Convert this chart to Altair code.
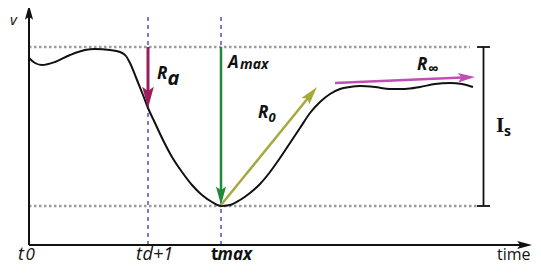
import math
import altair as alt
import pandas as pd

# ---------------- data (time units t, value units v) ----------------
curve_t = [0, 1.2, 2.6, 5.2, 8.2, 11.2, 13.2, 16.2, 18.2, 19.4, 20.2, 21.6, 22.8,
           23.8, 25.2, 26.8, 28.6, 30.6, 32.6, 34.6, 36.6, 38.4, 40.2, 42.2, 44.2,
           46.2, 48.2, 50.2, 52.2, 54.2, 56.2, 58.2, 60.2, 62.2, 64.2, 66.2, 69.2,
           72.2, 75.2, 78.2, 81.2, 84.2, 86.6, 88.8]
curve_v = [93.5, 91, 90, 91.5, 95, 97.5, 98, 97.5, 96.5, 94.5, 91, 82.5, 75,
           68.5, 61, 52.5, 44, 36.5, 30, 25, 21.5, 19.5, 20, 22.5, 26,
           30.5, 36.5, 43.5, 51, 58.5, 66, 71.5, 75.5, 78, 79, 79.5, 79,
           78, 78, 79, 80.5, 81, 80.5, 79]

T_D1 = 23.8          # t_{d+1}
T_MAX = 38.4         # t_max
V_TOP = 99.0         # upper reference level
V_BOT = 19.5         # lower reference level
T_AXIS_END = 100.6
V_AXIS_END = 120.0
T_GUIDE_TOP = 114.0

# arrows: start t, start v, end t, end v
arrow_names = ["Ra", "Amax", "R0", "Rinf"]
arrow_t1 = [23.8, 38.4, 38.4, 61.2]
arrow_v1 = [99.0, 99.0, 20.0, 81.0]
arrow_t2 = [23.8, 38.4, 57.6, 89.2]
arrow_v2 = [68.5, 20.0, 79.0, 84.0]

# I_s bracket
IS_T = 90.9
IS_CAP = [89.6, 92.2]

# labels
label_text = ["v", "R", "a", "A", "max", "R", "0", "R", "\u221e", "I", "s",
              "t", "0", "t", "d+1", "t", "max", "time"]
label_t = [-3.8, 25.6, 27.7, 39.8, 42.2, 45.8, 47.9, 77.6, 79.8, 93.4, 95.0,
           -2.2, -0.7, 21.4, 22.7, 36.4, 37.7, 93.6]
label_v = [110.25, 83.0, 80.0, 88.5, 88.0, 63.5, 61.5, 87.5, 85.5, 56.5, 54.5,
           -7.25, -7.5, -7.25, -7.25, -7.25, -7.5, -7.5]

# ---------------- scales ----------------
W, H = 525, 257
X_DOMAIN = [-4.2, 100.8]
Y_DOMAIN = [-10.0, 118.5]
KX = W / (X_DOMAIN[1] - X_DOMAIN[0])
KY = H / (Y_DOMAIN[1] - Y_DOMAIN[0])

xs = alt.Scale(domain=X_DOMAIN, nice=False, zero=False)
ys = alt.Scale(domain=Y_DOMAIN, nice=False, zero=False)
FONT = "Open Sans"


def X(f="t"):
    return alt.X(f"{f}:Q", scale=xs, axis=None)


def Y(f="v"):
    return alt.Y(f"{f}:Q", scale=ys, axis=None)


def rules(t1, v1, t2, v2, color, width, dash=None):
    df = pd.DataFrame({"t": t1, "v": v1, "t2": t2, "v2": v2})
    kw = dict(color=color, strokeWidth=width)
    if dash:
        kw["strokeDash"] = dash
    return alt.Chart(df).mark_rule(**kw).encode(
        x=X(), y=Y(), x2=alt.X2("t2:Q"), y2=alt.Y2("v2:Q"))


HEAD = "M0,0 L0.55,2 L0,1.6 L-0.55,2 Z"


def arrow(t1, v1, t2, v2, color, width, size):
    dx = (t2 - t1) * KX
    dy = (v2 - v1) * KY  # upward positive
    L = math.hypot(dx, dy)
    head_len = math.sqrt(size) / 2 * 1.6
    f = max(0.0, (L - head_len * 0.9) / L)
    te = t1 + (t2 - t1) * f
    ve = v1 + (v2 - v1) * f
    ang = math.degrees(math.atan2(dx, dy)) % 360
    line = rules([t1], [v1], [te], [ve], color, width)
    hd = alt.Chart(pd.DataFrame({"t": [t2], "v": [v2], "a": [ang]})).mark_point(
        shape=HEAD, filled=True, color=color, size=size, opacity=1, strokeWidth=0
    ).encode(x=X(), y=Y(), angle=alt.Angle("a:Q", scale=None))
    return line + hd


def labels(idx, size, weight="normal", style="normal", font=FONT, color="#111"):
    df = pd.DataFrame({"t": [label_t[i] for i in idx],
                       "v": [label_v[i] for i in idx],
                       "txt": [label_text[i] for i in idx]})
    return alt.Chart(df).mark_text(
        align="left", baseline="alphabetic", font=font, fontSize=size,
        fontWeight=weight, fontStyle=style, color=color
    ).encode(x=X(), y=Y(), text="txt:N")


layers = []
# reference levels (dotted grey)
layers.append(rules([0, 0], [V_TOP, V_BOT], [88.2, 89.5], [V_TOP, V_BOT],
                    "#9c9c9c", 2.5, [2.5, 2.5]))
# dashed purple guides
layers.append(rules([T_D1, T_MAX], [0, 0], [T_D1, T_MAX], [T_GUIDE_TOP, T_GUIDE_TOP],
                    "#7a7cdb", 2, [4, 4]))
# curve
curve = alt.Chart(pd.DataFrame({"t": curve_t, "v": curve_v})).mark_line(
    color="#111", strokeWidth=2, interpolate="monotone").encode(x=X(), y=Y(), order="t:Q")
layers.append(curve)
# I_s bracket
layers.append(rules([IS_T, IS_CAP[0], IS_CAP[0]], [V_TOP, V_TOP, V_BOT],
                    [IS_T, IS_CAP[1], IS_CAP[1]], [V_BOT, V_TOP, V_BOT], "#111", 1.8))
# arrows
colors = {"Ra": "#9b1d5c", "Amax": "#1f8a3b", "R0": "#a6aa3c", "Rinf": "#c24db4"}
widths = {"Ra": 3, "Amax": 2.5, "R0": 2.5, "Rinf": 2.5}
sizes = {"Ra": 450, "Amax": 340, "R0": 340, "Rinf": 290}
for i, n in enumerate(arrow_names):
    layers.append(arrow(arrow_t1[i], arrow_v1[i], arrow_t2[i], arrow_v2[i],
                        colors[n], widths[n], sizes[n]))
# axes
layers.append(arrow(0, 0, 0, V_AXIS_END, "#111", 2, 220))
layers.append(arrow(0, 0, T_AXIS_END, 0, "#111", 2, 220))

# labels
layers.append(labels([0], 15, style="italic"))
layers.append(labels([1, 5, 7], 17, weight="bold", style="italic"))
layers.append(labels([2], 20, weight="bold", style="italic"))
layers.append(labels([3], 17, weight="bold", style="italic"))
layers.append(labels([4], 14, weight="bold", style="italic"))
layers.append(labels([6], 13, weight="bold", style="italic"))
layers.append(labels([8], 15, weight="bold"))
layers.append(labels([9], 21, weight="bold", font="Liberation Serif"))
layers.append(labels([10], 14, weight="bold"))
layers.append(labels([11, 13], 18, style="italic"))
layers.append(labels([12], 17, style="italic"))
layers.append(labels([14], 18, style="italic"))
layers.append(labels([15], 17, weight="bold"))
layers.append(labels([16], 17, weight="bold", style="italic"))
layers.append(labels([17], 16))

chart = alt.layer(*layers).properties(
    width=W, height=H, padding=0, background="white",
    autosize=alt.AutoSizeParams(type="none")
).configure_view(stroke=None)

chart.save("out.html", embed_options={"renderer": "svg", "actions": False})
